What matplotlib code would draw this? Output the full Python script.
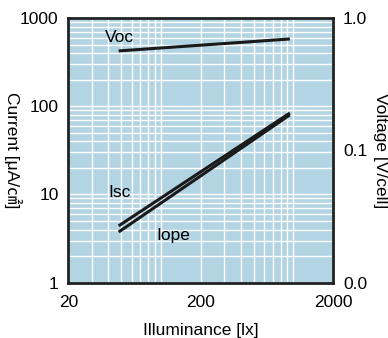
import matplotlib
matplotlib.use("Agg")
import matplotlib.pyplot as plt
from matplotlib.ticker import FixedLocator, FixedFormatter, LogLocator, NullFormatter

plt.rcParams['font.family'] = ['Liberation Sans', 'Noto Sans CJK JP', 'DejaVu Sans']

# illuminance [lx] at the ends of each line
lux = [48, 940]
isc = [4.4, 84]       # uA/cm2
iope = [3.75, 80]     # uA/cm2
voc = [0.566, 0.697]  # V/cell

left_ticks = [1, 10, 100, 1000]
left_labels = ["1", "10", "100", "1000"]
right_ticks = [0.01, 0.1, 1.0]
right_labels = ["0.0", "0.1", "1.0"]
x_ticks = [20, 200, 2000]
x_labels = ["20", "200", "2000"]

BG = "#b2d4e3"
LINE = "#1a1a1a"

fig = plt.figure(figsize=(3.88, 3.38), dpi=100)
ax = fig.add_axes([0.176, 0.164, 0.683, 0.782])
ax.set_facecolor(BG)
ax.set_xscale("log")
ax.set_yscale("log")
ax.set_xlim(20, 2000)
ax.set_ylim(1, 1000)

ax.xaxis.set_major_locator(FixedLocator(x_ticks))
ax.xaxis.set_major_formatter(FixedFormatter(x_labels))
ax.xaxis.set_minor_locator(LogLocator(base=10, subs=range(1, 10)))
ax.xaxis.set_minor_formatter(NullFormatter())
ax.yaxis.set_major_locator(FixedLocator(left_ticks))
ax.yaxis.set_major_formatter(FixedFormatter(left_labels))
ax.yaxis.set_minor_locator(LogLocator(base=10, subs=range(1, 10)))
ax.yaxis.set_minor_formatter(NullFormatter())
ax.grid(True, which="both", color="white", linewidth=1.0)
ax.set_axisbelow(True)
ax.tick_params(which="both", length=0, labelsize=12.5, pad=7)
ax.tick_params(axis="x", pad=9)

for s in ax.spines.values():
    s.set_linewidth(2)
    s.set_color("#222222")

ax.plot(lux, isc, color=LINE, linewidth=2.2, solid_capstyle="butt")
ax.plot(lux, iope, color=LINE, linewidth=2.2, solid_capstyle="butt")

ax2 = ax.twinx()
ax2.set_yscale("log")
ax2.set_ylim(0.01, 1.0)
ax2.yaxis.set_major_locator(FixedLocator(right_ticks))
ax2.yaxis.set_major_formatter(FixedFormatter(right_labels))
ax2.yaxis.set_minor_locator(FixedLocator([]))
ax2.tick_params(which="both", length=0, labelsize=12.5, pad=7)
for s in ax2.spines.values():
    s.set_visible(False)
ax2.plot(lux, voc, color=LINE, linewidth=2.2, solid_capstyle="butt")

ax.text(38, 610, "Voc", fontsize=12.5, va="center", ha="left")
ax.text(40, 10.5, "Isc", fontsize=12.5, va="center", ha="left")
ax.text(93, 3.4, "Iope", fontsize=12.5, va="center", ha="left")

ax.set_xlabel("Illuminance [lx]", fontsize=12.5, labelpad=9)
ax.set_ylabel("Current [μA/㎠]", fontsize=12.5, rotation=270, va="center")
ax.yaxis.set_label_coords(-0.21, 0.5)
ax2.set_ylabel("Voltage [V/cell]", fontsize=12.5, rotation=270, va="center")
ax2.yaxis.set_label_coords(1.18, 0.5)

fig.savefig("out.png", dpi=100)
